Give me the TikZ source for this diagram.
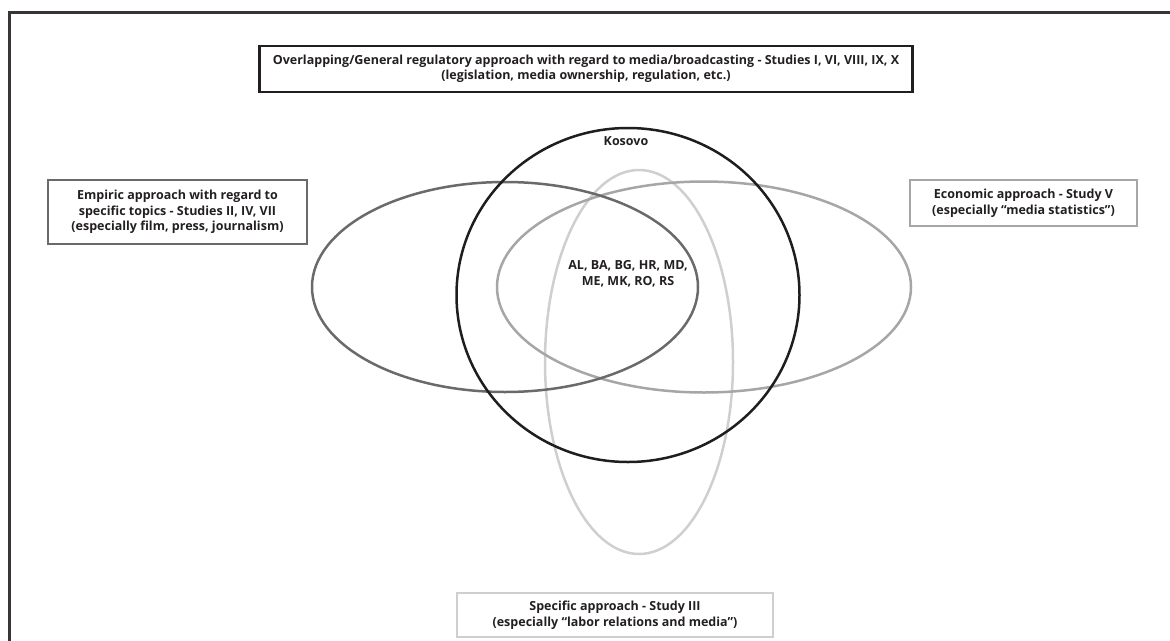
\documentclass[tikz,border=0pt]{standalone}
\usepackage{fontspec}
\setmainfont{Open Sans}
\usetikzlibrary{shapes.geometric}
\definecolor{ink}{HTML}{231F20}
\definecolor{cK}{HTML}{1E1E1E}
\definecolor{cE}{HTML}{6A6A6A}
\definecolor{cC}{HTML}{A6A6A6}
\definecolor{cS}{HTML}{CFCFCF}
\tikzset{
  lbl/.style={text=ink,font=\bfseries\fontsize{12.5}{15.5}\selectfont,align=center},
  box/.style={lbl,line width=2.5pt,inner sep=0pt},
  ring/.style={ellipse,draw,line width=2.5pt,inner sep=0pt}
}
\begin{document}
\begin{tikzpicture}[x=1pt,y=-1pt]
\useasboundingbox (0,0) rectangle (1170,640);
% outer frame (only top and left visible)
\draw[line width=3pt,color=ink!90] (9,660) -- (9,12) -- (1190,12);
% ellipses
\node[ring,draw=cS,minimum width=188,minimum height=384] (spec) at (639,362) {};
\node[ring,draw=cC,minimum width=414,minimum height=211] (econ) at (704,287) {};
\node[ring,draw=cE,minimum width=386,minimum height=210] (emp) at (505,287) {};
\node[ring,draw=cK,minimum width=343,minimum height=334] (kos) at (628,295) {};
% labels
\node[lbl] (kosl) at (626,141) {Kosovo};
\node[lbl] (cty) at (628,274) {AL, BA, BG, HR, MD,\\ME, MK, RO, RS};
% boxes
\node[box,draw=ink,minimum width=653,minimum height=46] (top) at (586,69)
  {Overlapping/General regulatory approach with regard to media/broadcasting - Studies I, VI, VIII, IX, X\\(legislation, media ownership, regulation, etc.)};
\node[box,draw=cE,minimum width=259,minimum height=64] (left) at (177.5,212)
  {Empiric approach with regard to\\specific topics - Studies II, IV, VII\\(especially film, press, journalism)};
\node[box,draw=cC,minimum width=227,minimum height=46] (right) at (1023.5,203)
  {Economic approach - Study V\\(especially “media statistics”)};
\node[box,draw=cS,minimum width=316,minimum height=44] (bot) at (615,615)
  {Specific approach - Study III\\(especially “labor relations and media”)};
\end{tikzpicture}
\end{document}
